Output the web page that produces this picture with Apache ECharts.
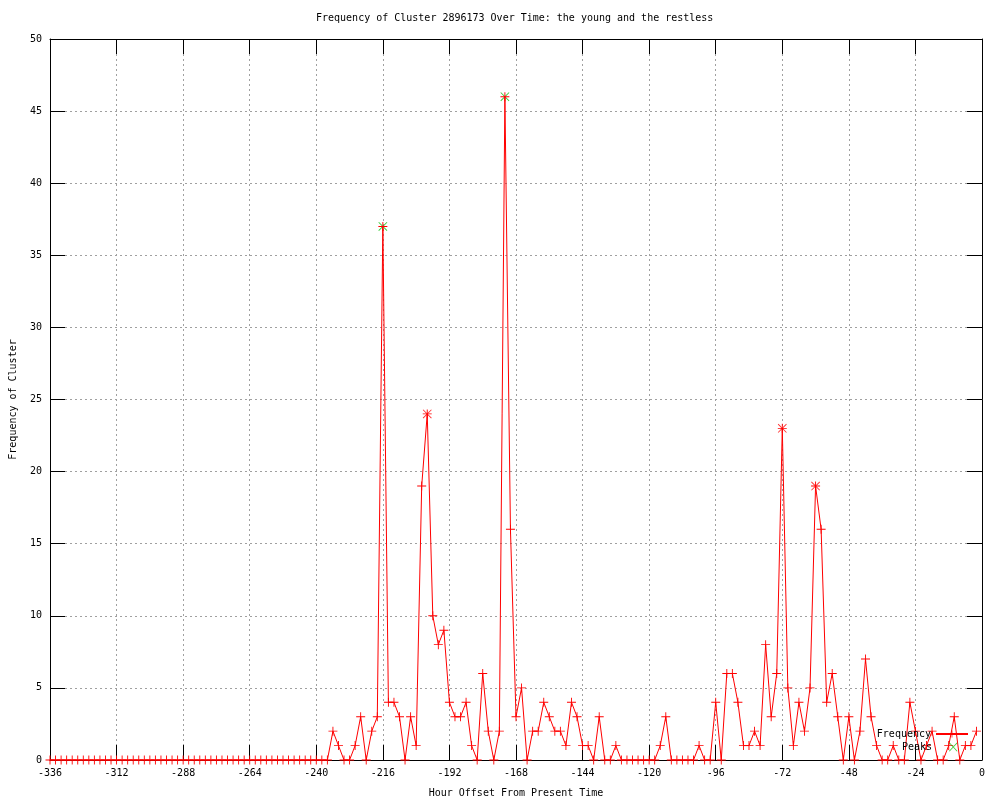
<!DOCTYPE html>
<html>
<head>
<meta charset="utf-8">
<script src="https://cdn.jsdelivr.net/npm/echarts@6/dist/echarts.min.js"></script>
<style>html,body{margin:0;padding:0;background:#fff;}#c{width:1000px;height:800px;}</style>
</head>
<body>
<div id="c"></div>
<script>
// Hour offsets (x categories), every 2 hours from -336 to -2
const hours = Array.from({length: 168}, (_, i) => -336 + 2 * i);
// Frequency values
const frequency = [
  // -336 .. -236 (all zero)
  0,0,0,0,0,0,0,0,0,0, 0,0,0,0,0,0,0,0,0,0,
  0,0,0,0,0,0,0,0,0,0, 0,0,0,0,0,0,0,0,0,0,
  0,0,0,0,0,0,0,0,0,0, 0,
  // -234 .. -182
  2,1,0,0,1,3,0,2,3,37,4,4,3,0,3,1,19,24,10,8,9,4,3,3,4,1,0,
  // -180 .. -122
  6,2,0,2,46,16,3,5,0,2,2,4,3,2,2,1,4,3,1,1,0,3,0,0,1,0,0,0,0,0,
  // -120 .. -62
  0,0,1,3,0,0,0,0,0,1,0,0,4,0,6,6,4,1,1,2,1,8,3,6,23,5,1,4,2,5,
  // -60 .. -2
  19,16,4,6,3,0,3,0,2,7,3,1,0,0,1,0,0,4,2,0,1,2,0,0,1,3,0,1,1,2
];
// Detected peaks (green)
const peakHours = [-216, -172];
const peakValues = [37, 46];
// Secondary local maxima (red star markers)
const localPeakHours = [-200, -72, -60];
const localPeakValues = [24, 23, 19];

const xTicks = {min: -336, max: 0, interval: 24};
const yTicks = {min: 0, max: 50, interval: 5};

const FONT = 'DejaVu Sans Mono';
const plusPath = 'path://M0,4.5H10V5.5H0Z M4.5,0H5.5V10H4.5Z';
const crossPath = 'path://M0,0.7L0.7,0L10,9.3L9.3,10Z M9.3,0L10,0.7L0.7,10L0,9.3Z';
// legend icon: a cross centred in a 32x9 box
const crossLegend = 'path://M0,0L0.01,0.01Z M32,9L31.99,8.99Z M12,0.6L12.6,0L20.5,8.4L19.9,9Z M19.9,0L20.5,0.6L12.6,9L12,8.4Z';

const chart = echarts.init(document.getElementById('c'), null, {renderer: 'canvas'});
const gridLine = {show: true, lineStyle: {color: '#a0a0a0', type: [2, 3], width: 1}};
const tickStyle = {show: true, inside: true, length: 15, lineStyle: {color: '#000', width: 1}};
const axisLine = {show: true, onZero: false, lineStyle: {color: '#000', width: 1}};
const labelStyle = {fontFamily: FONT, fontSize: 10, color: '#000'};

chart.setOption({
  animation: false,
  backgroundColor: '#fff',
  title: {
    text: 'Frequency of Cluster 2896173 Over Time: the young and the restless',
    left: 316, top: 13, padding: 0,
    textStyle: {fontFamily: FONT, fontSize: 10, fontWeight: 'normal', color: '#000'}
  },
  grid: {left: 50, right: 18, top: 39, bottom: 40, containLabel: false, outerBoundsMode: 'none'},
  legend: [
    {data: ['Frequency'], right: 31, top: 729, orient: 'vertical', align: 'right',
     itemWidth: 32, itemHeight: 9, padding: 0, itemGap: 0,
     textStyle: labelStyle},
    {data: [{name: 'Peaks', icon: crossLegend}], right: 31, top: 742, orient: 'vertical', align: 'right',
     itemWidth: 32, itemHeight: 9, padding: 0, itemGap: 0, symbolKeepAspect: false,
     textStyle: labelStyle}
  ],
  xAxis: [
    {type: 'value', position: 'bottom', min: xTicks.min, max: xTicks.max, interval: xTicks.interval,
     name: 'Hour Offset From Present Time', nameLocation: 'middle', nameGap: 28,
     nameTextStyle: labelStyle,
     axisLine: axisLine, axisTick: tickStyle, splitLine: gridLine,
     axisLabel: Object.assign({margin: 8}, labelStyle)},
    {type: 'value', position: 'top', min: xTicks.min, max: xTicks.max, interval: xTicks.interval,
     axisLine: axisLine, axisTick: tickStyle, splitLine: {show: false}, axisLabel: {show: false}}
  ],
  yAxis: [
    {type: 'value', position: 'left', min: yTicks.min, max: yTicks.max, interval: yTicks.interval,
     name: 'Frequency of Cluster', nameLocation: 'middle', nameGap: 32, nameRotate: 90,
     nameTextStyle: labelStyle,
     axisLine: axisLine, axisTick: tickStyle, splitLine: gridLine,
     axisLabel: Object.assign({margin: 8}, labelStyle)},
    {type: 'value', position: 'right', min: yTicks.min, max: yTicks.max, interval: yTicks.interval,
     axisLine: axisLine, axisTick: tickStyle, splitLine: {show: false}, axisLabel: {show: false}}
  ],
  series: [
    {
      name: 'Peaks', type: 'scatter', z: 2,
      data: peakHours.map((h, i) => [h, peakValues[i]]),
      symbol: crossPath, symbolSize: 9,
      itemStyle: {color: '#00c000'}
    },
    {
      name: 'Local maxima', type: 'scatter', z: 4,
      data: localPeakHours.map((h, i) => [h, localPeakValues[i]]),
      symbol: crossPath, symbolSize: 9,
      itemStyle: {color: '#ff0000'}
    },
    {
      name: 'Frequency', type: 'line', z: 3,
      data: hours.map((h, i) => [h, frequency[i]]),
      symbol: plusPath, symbolSize: 9, showSymbol: true, showAllSymbol: true,
      clip: false,
      lineStyle: {color: '#ff0000', width: 1},
      itemStyle: {color: '#ff0000'}
    }
  ]
});
</script>
</body>
</html>
